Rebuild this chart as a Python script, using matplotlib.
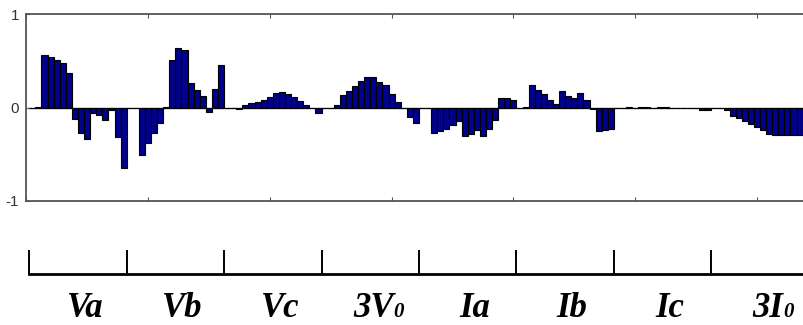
import matplotlib
matplotlib.use('Agg')
import matplotlib.pyplot as plt
import numpy as np
from matplotlib import transforms

# ---- data (16 samples per quantity) ----
va   = [0, 0.01, 0.562, 0.544, 0.509, 0.48, 0.374, -0.118, -0.27, -0.337, -0.057, -0.077, -0.134, -0.032, -0.32, -0.648]
vb   = [0, -0.01, -0.51, -0.38, -0.27, -0.17, 0.01, 0.51, 0.637, 0.62, 0.26, 0.182, 0.12, -0.05, 0.195, 0.455]
vc   = [0, 0, -0.014, 0.03, 0.047, 0.06, 0.075, 0.108, 0.15, 0.167, 0.145, 0.112, 0.073, 0.027, -0.005, -0.062]
v0x3 = [0, 0, 0.028, 0.13, 0.177, 0.23, 0.287, 0.325, 0.325, 0.268, 0.237, 0.14, 0.055, -0.005, -0.1, -0.162]
ia   = [0, -0.01, -0.27, -0.25, -0.225, -0.185, -0.146, -0.3, -0.283, -0.245, -0.31, -0.235, -0.13, 0.102, 0.102, 0.083]
ib   = [0, 0.01, 0.245, 0.187, 0.14, 0.085, 0.042, 0.177, 0.127, 0.1, 0.15, 0.077, -0.015, -0.254, -0.24, -0.23]
ic   = [0, 0, 0.008, 0, 0.008, 0.008, 0, 0.008, 0.008, 0, 0, 0, 0, -0.008, -0.03, -0.03]
i0x3 = [0, 0, -0.03, -0.088, -0.115, -0.145, -0.175, -0.21, -0.245, -0.28, -0.295, -0.295, -0.295, -0.295, -0.295, -0.295]

label_main = ['Va', 'Vb', 'Vc', '3V', 'Ia', 'Ib', 'Ic', '3I']
label_sub  = ['', '', '', '0', '', '', '', '0']
ytick_vals = [-1, 0, 1]
ytick_text = ['-1', '0', '1']

series = [va, vb, vc, v0x3, ia, ib, ic, i0x3]
values = np.concatenate(series)
n_per = len(va)
idx = np.arange(1, len(values) + 1)

W, H = 804, 325
fig = plt.figure(figsize=(W / 100, H / 100), dpi=100)
x0px, unit, xmax = 26.2, 6.09, 140

ax = fig.add_axes([x0px / W, 1 - 201 / H, xmax * unit / W, 187 / H])
ax.bar(idx, values, width=1.0, color='#00008a', edgecolor='black', linewidth=0.8, zorder=3)
ax.axhline(0, color='#707070', lw=1.0, zorder=2)
ax.set_xlim(0, xmax)
ax.set_ylim(-1, 1)
ax.set_xticks(np.arange(0, xmax + 1, 20))
ax.set_xticklabels([])
ax.tick_params(axis='x', direction='in', top=True, bottom=True, length=3, color='#555555')
ax.set_yticks(ytick_vals)
ax.set_yticklabels(ytick_text, family='Liberation Sans')
ax.tick_params(axis='y', direction='in', length=3, pad=5, labelsize=11, labelcolor='#333333', color='#555555')
for s in ax.spines.values():
    s.set_color('#555555')
    s.set_linewidth(1.3)

# ---- lower group axis ----
ax2 = fig.add_axes([x0px / W, 1 - 274 / H, xmax * unit / W, 0.01])
ax2.set_xlim(0, xmax)
ax2.patch.set_visible(False)
for k in ['top', 'left', 'right']:
    ax2.spines[k].set_visible(False)
bounds = 0.5 + n_per * np.arange(len(series))
ax2.spines['bottom'].set_bounds(bounds[0], xmax)
ax2.spines['bottom'].set_linewidth(2.0)
ax2.spines['bottom'].set_color('black')
ax2.set_yticks([])
ax2.set_xticks(bounds)
ax2.set_xticklabels([])
ax2.tick_params(axis='x', direction='in', length=24 * 0.72, width=1.4, color='black')

base_y = 1 - 317 / H
blend = transforms.blended_transform_factory(ax2.transData, fig.transFigure)
font = dict(family='Liberation Serif', weight='bold', style='italic')
for k, (m, sub) in enumerate(zip(label_main, label_sub)):
    cx = bounds[k] + n_per / 2
    if sub:
        tr = blend + transforms.ScaledTranslation(23 / 100, 0, fig.dpi_scale_trans)
        fig.text(cx, base_y, m, transform=tr, ha='right', va='baseline', fontsize=25, **font)
        fig.text(cx, base_y, sub, transform=tr, ha='left', va='baseline', fontsize=15, **font)
    else:
        tr = blend + transforms.ScaledTranslation(7 / 100, 0, fig.dpi_scale_trans)
        fig.text(cx, base_y, m, transform=tr, ha='center', va='baseline', fontsize=25, **font)

fig.savefig('out.png', dpi=100)
